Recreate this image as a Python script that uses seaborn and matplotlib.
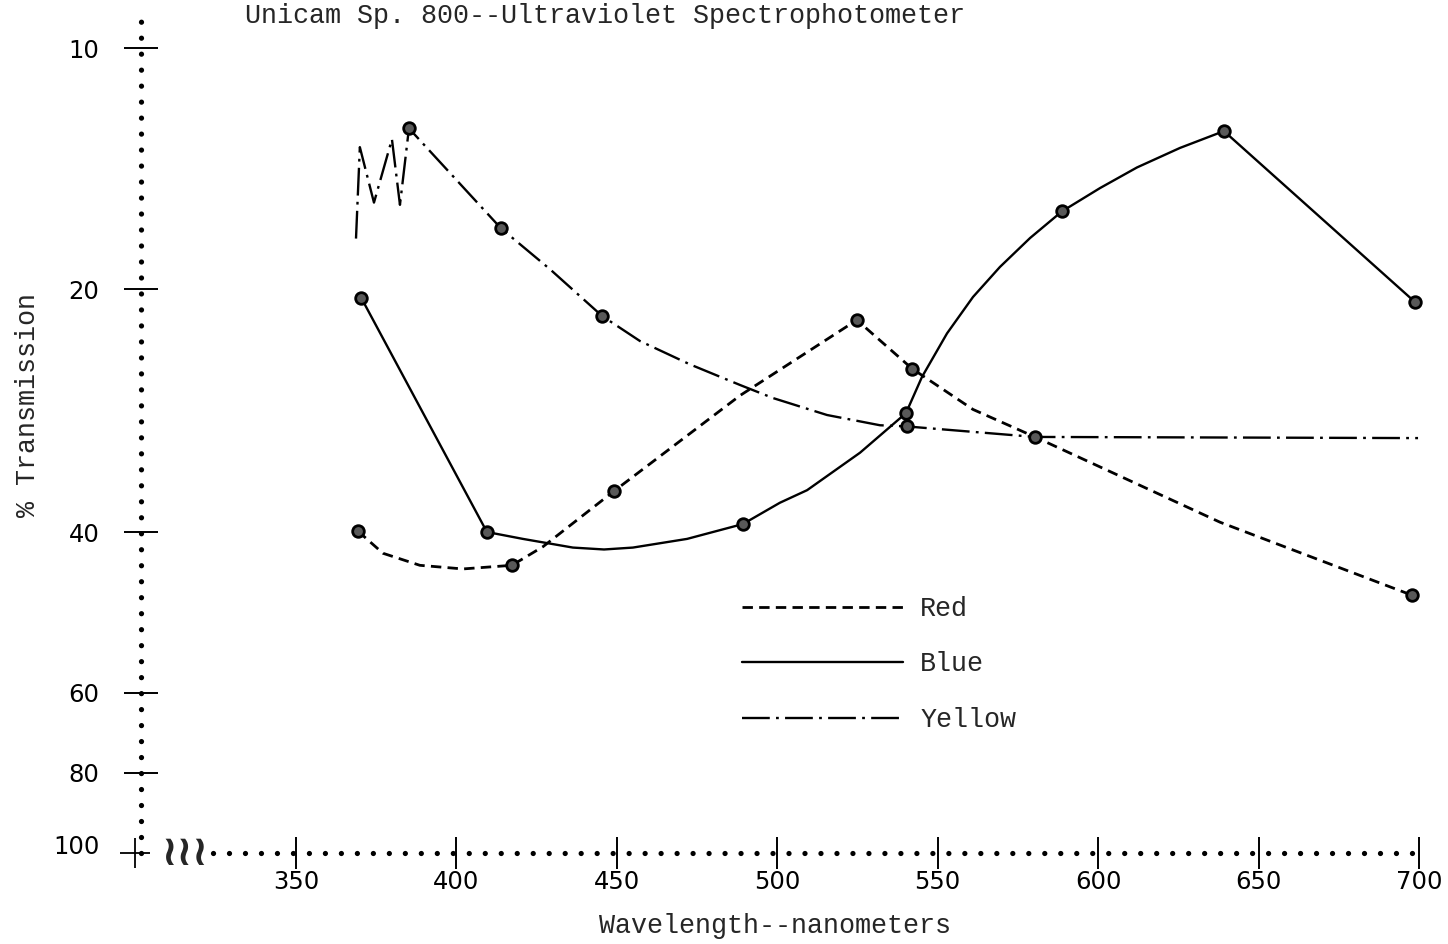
import numpy as np
import pandas as pd
import matplotlib
matplotlib.use("Agg")
import matplotlib.pyplot as plt
import matplotlib.transforms as mtransforms
import seaborn as sns

# ---------------- data ----------------
title = "Unicam Sp. 800--Ultraviolet Spectrophotometer"
x_label = "Wavelength--nanometers"
y_label = "% Transmission"
x_ticks = [350, 400, 450, 500, 550, 600, 650, 700]
y_ticks = [10, 20, 40, 60, 80, 100]
series_names = ["Red", "Blue", "Yellow"]

# traced curves (nm, % transmission)
red_x = [369.3, 377.1, 388.6, 402.0, 417.3, 427.0, 449.1, 488.4, 524.8, 542.0, 561.0, 580.3, 638.0, 697.8]
red_y = [39.9, 42.2, 43.5, 43.9, 43.5, 41.5, 35.6, 27.1, 21.85, 25.1, 28.2, 30.5, 38.9, 46.9]
blue_x = [370.3, 409.5, 420.7, 436.3, 446.0, 455.0, 471.9, 489.3, 500.8, 509.3, 525.8, 540.1, 545.1, 552.9,
          561.0, 569.4, 578.8, 588.7, 600.6, 612.1, 625.5, 639.2, 698.7]
blue_y = [20.5, 40.0, 40.7, 41.6, 41.8, 41.6, 40.7, 39.1, 36.8, 35.5, 31.9, 28.5, 25.7, 22.7,
          20.46, 18.77, 17.27, 16.0, 14.96, 14.1, 13.33, 12.7, 20.75]
yellow_x = [368.7, 369.9, 374.3, 379.9, 382.4, 385.2, 413.9, 429.2, 445.4, 457.2, 472.8, 488.4,
            498.7, 515.5, 532.0, 540.4, 580.3, 699.7]
yellow_y = [17.3, 13.3, 15.6, 13.0, 15.7, 12.6, 16.8, 18.9, 21.6, 23.2, 24.8, 26.3,
            27.3, 28.65, 29.5, 29.6, 30.5, 30.6]

# measured (marked) points
red_pts_x = [369.3, 417.3, 449.1, 524.8, 542.0, 697.8]
red_pts_y = [39.9, 43.5, 35.6, 21.85, 25.1, 46.9]
blue_pts_x = [370.3, 409.5, 489.3, 540.1, 588.7, 639.2, 698.7]
blue_pts_y = [20.5, 40.0, 39.1, 28.5, 16.0, 12.7, 20.75]
yellow_pts_x = [385.2, 413.9, 445.4, 540.4, 580.3]
yellow_pts_y = [12.6, 16.8, 21.6, 29.6, 30.5]

# ---------------- style ----------------
sns.set_theme(style="white")
plt.rcParams["font.family"] = ["Liberation Mono", "DejaVu Sans Mono"]
plt.rcParams["lines.scale_dashes"] = False

W, H, DPI = 1448, 944, 100
fig = plt.figure(figsize=(W / DPI, H / DPI), dpi=DPI)
ax_left, ax_right, ax_top, ax_bot = 141, 1430, 16, 853
ax = fig.add_axes([ax_left / W, 1 - ax_bot / H, (ax_right - ax_left) / W, (ax_bot - ax_top) / H])

# hand-ruled log-like transmission scale (piecewise in log10 between the printed ticks)
LK = np.log10([10, 20, 40, 60, 80, 100])
PK = np.array([0, 241, 484, 645, 725, 805], dtype=float)

def fwd(v):
    v = np.asarray(v, dtype=float)
    l = np.log10(np.clip(v, 1e-6, None))
    out = np.interp(l, LK, PK)
    s0 = (PK[1] - PK[0]) / (LK[1] - LK[0])
    s1 = (PK[-1] - PK[-2]) / (LK[-1] - LK[-2])
    out = np.where(l < LK[0], PK[0] + (l - LK[0]) * s0, out)
    out = np.where(l > LK[-1], PK[-1] + (l - LK[-1]) * s1, out)
    return out

def inv(u):
    u = np.asarray(u, dtype=float)
    l = np.interp(u, PK, LK)
    s0 = (LK[1] - LK[0]) / (PK[1] - PK[0])
    s1 = (LK[-1] - LK[-2]) / (PK[-1] - PK[-2])
    l = np.where(u < PK[0], LK[0] + (u - PK[0]) * s0, l)
    l = np.where(u > PK[-1], LK[-1] + (u - PK[-1]) * s1, l)
    return 10 ** l

ax.set_yscale("function", functions=(fwd, inv))

px_per_nm = (1419 - 296) / 350.0
ax.set_xlim(350 - (296 - ax_left) / px_per_nm, 700 + (ax_right - 1419) / px_per_nm)
ax.set_ylim(100, float(inv(-(48 - ax_top))))

red_ls = (0, (7.5, 4.5))
blue_ls = "-"
yellow_ls = (0, (20, 4.5, 2, 4.5))

df_r = pd.DataFrame({"nm": red_x, "T": red_y})
df_b = pd.DataFrame({"nm": blue_x, "T": blue_y})
df_y = pd.DataFrame({"nm": yellow_x, "T": yellow_y})

sns.lineplot(data=df_r, x="nm", y="T", sort=False, estimator=None, color="black",
             linewidth=2.0, linestyle=red_ls, ax=ax)
h_red = ax.lines[-1]
sns.lineplot(data=df_b, x="nm", y="T", sort=False, estimator=None, color="black",
             linewidth=1.7, linestyle=blue_ls, ax=ax)
h_blue = ax.lines[-1]
sns.lineplot(data=df_y, x="nm", y="T", sort=False, estimator=None, color="black",
             linewidth=1.7, linestyle=yellow_ls, ax=ax)
h_yel = ax.lines[-1]

pts = pd.DataFrame({
    "nm": red_pts_x + blue_pts_x + yellow_pts_x,
    "T": red_pts_y + blue_pts_y + yellow_pts_y,
})
sns.scatterplot(data=pts, x="nm", y="T", marker="o", s=70, color="0.35",
                edgecolor="black", linewidth=2.0, zorder=5, ax=ax)

# ---------------- axes decoration ----------------
for s in ["top", "right"]:
    ax.spines[s].set_visible(False)
for s in ["left", "bottom"]:
    sp = ax.spines[s]
    sp.set_color("black")
    sp.set_linewidth(3.8)
    sp.set_linestyle((0, (0.01, 11.5)))
    sp.set_capstyle("round")
ax.spines["bottom"].set_bounds(324.0, 701)

ax.set_xticks(x_ticks)
ax.set_xticklabels([str(t) for t in x_ticks], fontfamily="DejaVu Sans", fontsize=17.5)
ax.set_yticks(y_ticks)
ax.set_yticklabels([str(t) for t in y_ticks], fontfamily="DejaVu Sans", fontsize=17.5)
ax.yaxis.set_minor_locator(matplotlib.ticker.NullLocator())
ax.xaxis.set_minor_locator(matplotlib.ticker.NullLocator())
ax.tick_params(axis="x", direction="inout", length=23, width=1.4, pad=1, colors="black", bottom=True)
ax.tick_params(axis="y", direction="inout", length=24, width=1.4, pad=18, colors="black", left=True)
last = ax.yaxis.get_major_ticks()[-1]
last.tick1line.set_visible(False)
last.label1.set_transform(last.label1.get_transform()
                          + mtransforms.ScaledTranslation(0, 8 / DPI, fig.dpi_scale_trans))

ax.set_xlabel("")
ax.set_ylabel("")
fig.text(775 / W, 1 - 926 / H, x_label, ha="center", va="center", fontsize=19.3)
fig.text(28 / W, 1 - 405 / H, y_label, ha="center", va="center", rotation=90, fontsize=19.3)
fig.text(245 / W, 1 - 16 / H, title, ha="left", va="center", fontsize=19.3)

# origin cross and axis break
ax.plot([-0.005], [0], marker="+", markersize=22, markeredgewidth=1.3, color="black",
        transform=ax.transAxes, clip_on=False)
ax.text((185 - ax_left) / (ax_right - ax_left), 0, "\u2240\u2240\u2240", transform=ax.transAxes,
        ha="center", va="center", fontsize=30, fontweight="bold", fontfamily="DejaVu Sans",
        clip_on=False)

leg = ax.legend(handles=[h_red, h_blue, h_yel], labels=series_names,
                loc="upper left", bbox_to_anchor=(742 / W, 1 - 596 / H),
                bbox_transform=fig.transFigure, frameon=False, fontsize=19.3,
                handlelength=6.0, handletextpad=0.65, labelspacing=1.1,
                borderpad=0, borderaxespad=0)

fig.savefig("out.png", dpi=DPI, facecolor="white")
